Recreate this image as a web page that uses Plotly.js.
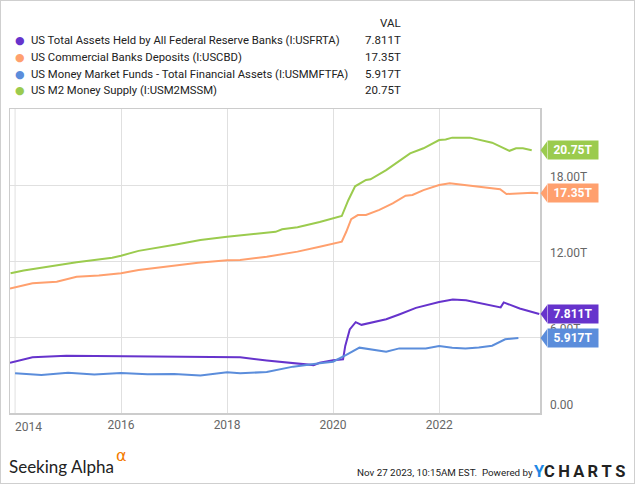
<!DOCTYPE html>
<html>
<head>
<meta charset="utf-8">
<script src="https://cdn.plot.ly/plotly-3.0.1.min.js"></script>
<style>
html,body{margin:0;padding:0;background:#fff;}
#wrap{position:relative;width:635px;height:484px;}
#chart{width:635px;height:484px;}
#frame{position:absolute;left:0;top:0;width:635px;height:484px;box-sizing:border-box;border:1px solid #cfcfcf;pointer-events:none;}
</style>
</head>
<body>
<div id="wrap"><div id="chart"></div><div id="frame"></div></div>
<script>
// ---------------- DATA ----------------
const seriesNames = [
  "US Total Assets Held by All Federal Reserve Banks (I:USFRTA)",
  "US Commercial Banks Deposits (I:USCBD)",
  "US Money Market Funds - Total Financial Assets (I:USMMFTFA)",
  "US M2 Money Supply (I:USM2MSSM)"
];

const fedDates = ["2013-11-27","2014-05-01","2014-12-20","2016-01-01","2017-01-01","2018-01-01","2018-04-01","2018-10-01","2019-04-01","2019-08-20","2019-10-01","2020-01-01","2020-03-10","2020-03-25","2020-04-25","2020-06-05","2020-07-15","2020-10-01","2021-01-01","2021-04-05","2021-07-25","2022-01-01","2022-04-05","2022-07-05","2022-11-20","2023-03-01","2023-03-22","2023-07-10","2023-11-22"];
const fedVals  = [3.97,4.40,4.52,4.50,4.47,4.45,4.40,4.15,3.97,3.78,3.97,4.17,4.24,5.30,6.60,7.17,6.96,7.15,7.40,7.80,8.30,8.76,8.96,8.90,8.60,8.34,8.73,8.25,7.811];

const depDates = ["2013-11-27","2014-05-01","2014-10-15","2015-03-01","2015-08-01","2016-01-01","2016-05-01","2016-11-01","2017-06-15","2018-01-01","2018-04-01","2018-10-01","2019-01-20","2019-05-01","2019-10-01","2020-01-01","2020-03-01","2020-04-01","2020-05-05","2020-06-20","2020-08-15","2020-11-15","2021-02-15","2021-05-15","2021-07-01","2021-09-15","2022-01-01","2022-03-15","2022-07-01","2022-11-20","2023-02-25","2023-04-10","2023-06-15","2023-10-05","2023-11-15"];
const depVals  = [9.82,10.24,10.37,10.76,10.85,11.03,11.29,11.55,11.87,12.05,12.08,12.34,12.53,12.74,13.13,13.34,13.52,14.31,15.31,15.63,15.63,16.03,16.55,17.16,17.21,17.60,18.00,18.13,18.00,17.82,17.66,17.29,17.34,17.39,17.35];

const mmfDates = ["2014-01-01","2014-07-01","2015-01-01","2015-07-01","2016-01-01","2016-07-01","2017-01-01","2017-07-01","2018-01-01","2018-04-01","2018-10-01","2019-04-01","2019-10-01","2020-01-01","2020-04-01","2020-07-01","2021-01-01","2021-04-01","2021-10-01","2022-01-01","2022-04-01","2022-07-01","2022-10-01","2023-01-01","2023-04-01","2023-07-01"];
const mmfVals  = [3.13,3.00,3.18,3.03,3.16,3.05,3.08,2.97,3.21,3.13,3.24,3.66,3.92,4.05,4.58,5.16,4.84,5.10,5.10,5.29,5.15,5.10,5.18,5.31,5.82,5.917];

const m2Dates = ["2013-12-01","2014-03-01","2015-03-01","2015-11-01","2016-01-01","2016-05-01","2017-01-15","2017-07-01","2018-01-01","2018-10-01","2018-12-01","2019-01-15","2019-05-01","2019-10-01","2020-01-01","2020-03-01","2020-04-15","2020-06-01","2020-08-15","2020-09-15","2021-01-01","2021-04-01","2021-06-15","2021-09-15","2022-01-01","2022-02-15","2022-04-01","2022-08-01","2022-11-01","2023-01-01","2023-05-01","2023-06-15","2023-08-01","2023-10-01"];
const m2Vals  = [11.03,11.25,11.90,12.26,12.42,12.80,13.30,13.66,13.92,14.26,14.30,14.50,14.66,15.08,15.37,15.55,16.80,17.90,18.40,18.45,19.18,19.90,20.50,20.90,21.55,21.60,21.74,21.74,21.47,21.34,20.70,20.90,20.90,20.75];

const yTickVals = [0, 6, 12, 18];
const yTickText = ["0.00", "6.00T", "12.00T", "18.00T"];
const xTickVals = ["2016-01-01","2018-01-01","2020-01-01","2022-01-01"];
const xTickText = ["2016","2018","2020","2022"];
const firstXTick = {val: "2014-01-01", text: "2014"};
const xRange = ["2013-11-27", "2023-11-27"];
const yRange = [0, 24];
const stamp = "Nov 27 2023, 10:15AM EST.";

// ---------------- STYLE ----------------
const colors = ["#6633cc", "#ffa06e", "#5b8ddb", "#9bcb4e"];
const allDates = [fedDates, depDates, mmfDates, m2Dates];
const allVals = [fedVals, depVals, mmfVals, m2Vals];

const L = 10, R = 95, T = 109, B = 71, W = 635, H = 484;
const pw = W - L - R, ph = H - T - B;
const px2x = p => (p - L) / pw;
const py2y = p => (H - B - p) / ph;
const pxPerUnit = ph / (yRange[1] - yRange[0]);

const traces = allDates.map((d, i) => ({
  x: d, y: allVals[i], type: "scatter", mode: "lines",
  line: {color: colors[i], width: 2}, hoverinfo: "skip", showlegend: false
}));

const annotations = [];
const shapes = [];
const fontMain = "Roboto, 'Noto Sans', sans-serif";

// Legend
annotations.push({xref:"paper", yref:"paper", x: px2x(403), y: py2y(23), xanchor:"right", yanchor:"middle",
  text:"VAL", showarrow:false, font:{family:fontMain, size:11.5, color:"#222"}});
const rowY = [40, 57, 74, 90];
seriesNames.forEach((n, i) => {
  const last = allVals[i][allVals[i].length - 1];
  const lbl = last.toPrecision(4) + "T";
  annotations.push({xref:"paper", yref:"paper", x: px2x(19.5), y: py2y(rowY[i]), xanchor:"center", yanchor:"middle",
    text:"●", showarrow:false, font:{family:"'DejaVu Sans', sans-serif", size:11, color:colors[i]}});
  annotations.push({xref:"paper", yref:"paper", x: px2x(28.5), y: py2y(rowY[i]), xanchor:"left", yanchor:"middle",
    text:n, showarrow:false, font:{family:fontMain, size:11.3, color:"#222"}});
  annotations.push({xref:"paper", yref:"paper", x: px2x(403), y: py2y(rowY[i]), xanchor:"right", yanchor:"middle",
    text:lbl, showarrow:false, font:{family:fontMain, size:11.5, color:"#222"}});
  // end tag
  const tagH = 17.5;
  const dy = (tagH / 2) / pxPerUnit;
  annotations.push({xref:"paper", yref:"y", x: px2x(546.5), y: last, xanchor:"left", yanchor:"middle",
    text:"<b>" + lbl + "</b>", showarrow:false, bgcolor: colors[i], borderpad: 0, width: 50, height: tagH, align:"center",
    font:{family:fontMain, size:12, color:"#fff"}});
  shapes.push({type:"path", xref:"paper", yref:"y", layer:"above",
    path: `M ${px2x(540.5)},${last} L ${px2x(547)},${last + dy} L ${px2x(547)},${last - dy} Z`,
    fillcolor: colors[i], line:{width:0}});
});

// First x tick label (shifted to stay inside)
annotations.push({xref:"x", yref:"paper", x: firstXTick.val, y: py2y(427), xanchor:"left", yanchor:"middle",
  xshift:-2, text:firstXTick.text, showarrow:false, font:{family:fontMain, size:12, color:"#666"}});

// Footer
annotations.push({xref:"paper", yref:"paper", x: px2x(7), y: py2y(466), xanchor:"left", yanchor:"middle",
  text:"Seeking Alpha", showarrow:false, font:{family:"Lato, 'Noto Sans', sans-serif", size:17, color:"#222"}});
annotations.push({xref:"paper", yref:"paper", x: px2x(114), y: py2y(455), xanchor:"left", yanchor:"middle",
  text:"α", showarrow:false, font:{family:"'DejaVu Sans', sans-serif", size:16, color:"#f47b00"}});
annotations.push({xref:"paper", yref:"paper", x: px2x(355), y: py2y(472), xanchor:"left", yanchor:"middle",
  text:stamp + "  Powered by", showarrow:false, font:{family:"Roboto, sans-serif", size:9.8, color:"#222"}});
annotations.push({xref:"paper", yref:"paper", x: px2x(627), y: py2y(471), xanchor:"right", yanchor:"middle",
  text:"<span style='color:#1e88e5'>Y</span>C&#8201;H&#8201;A&#8201;R&#8201;T&#8201;S", showarrow:false, font:{family:"Roboto, sans-serif", size:16.5, color:"#222", weight:700}});

const layout = {
  width: W, height: H,
  margin: {l: L, r: R, t: T, b: B, pad: 0},
  paper_bgcolor: "#fff", plot_bgcolor: "#fff",
  showlegend: false,
  xaxis: {type:"date", range: xRange, tickvals: xTickVals, ticktext: xTickText,
    showgrid: true, gridcolor: "#e0e0e0", gridwidth: 1,
    showline: true, mirror: true, linecolor: "#cccccc", linewidth: 1.5,
    ticks: "", tickfont: {family: fontMain, size: 12, color: "#666"}, fixedrange: true, zeroline:false},
  yaxis: {range: yRange, side: "right", tickvals: yTickVals, ticktext: yTickText,
    showgrid: true, gridcolor: "#e0e0e0", gridwidth: 1,
    showline: true, mirror: true, linecolor: "#cccccc", linewidth: 1.5,
    ticks: "", ticklabelposition: "outside top", ticklabelstandoff: 6,
    tickfont: {family: fontMain, size: 12, color: "#666"}, fixedrange: true, zeroline: false},
  annotations: annotations,
  shapes: shapes
};
// extra gridline at 2014
layout.shapes.push({type:"line", xref:"x", yref:"paper", x0:firstXTick.val, x1:firstXTick.val, y0:0, y1:1,
  line:{color:"#e0e0e0", width:1}, layer:"below"});

Plotly.newPlot("chart", traces, layout, {staticPlot: true, displayModeBar: false});
</script>
</body>
</html>
